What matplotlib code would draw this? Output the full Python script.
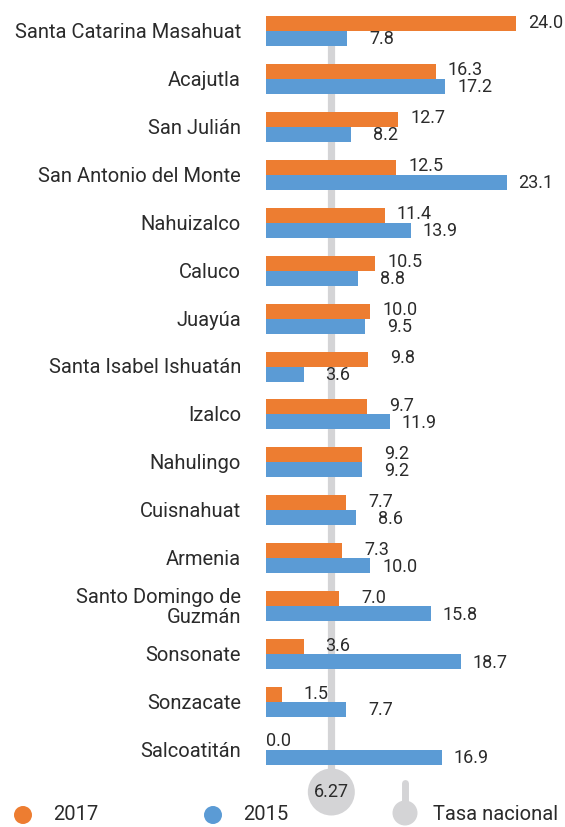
import matplotlib
matplotlib.use("Agg")
import matplotlib.pyplot as plt

plt.rcParams['font.family'] = ['Roboto', 'DejaVu Sans']

categories = ["Santa Catarina Masahuat", "Acajutla", "San Julián", "San Antonio del Monte",
              "Nahuizalco", "Caluco", "Juayúa", "Santa Isabel Ishuatán", "Izalco", "Nahulingo",
              "Cuisnahuat", "Armenia", "Santo Domingo de\nGuzmán", "Sonsonate", "Sonzacate",
              "Salcoatitán"]
values_2017 = [24.0, 16.3, 12.7, 12.5, 11.4, 10.5, 10.0, 9.8, 9.7, 9.2, 7.7, 7.3, 7.0, 3.6, 1.5, 0.0]
values_2015 = [7.8, 17.2, 8.2, 23.1, 13.9, 8.8, 9.5, 3.6, 11.9, 9.2, 8.6, 10.0, 15.8, 18.7, 7.7, 16.9]
tasa_nacional = 6.27
series_names = ["2017", "2015"]
legend_national = "Tasa nacional"

C17 = "#ED7D31"
C15 = "#5B9BD5"
GRAY = "#D4D4D6"
TXT = "#2b2b2b"

W, H = 565, 827
fig = plt.figure(figsize=(W / 100, H / 100), dpi=100)

# pixel geometry
x0_px = 266
px_per_unit = 10.42
first_px = 31
pitch = 47.93

ax = fig.add_axes([x0_px / W, 0, 1 - x0_px / W, 1])
ax.set_xlim(0, (W - x0_px) / px_per_unit)
ax.set_ylim((H - first_px) / pitch, -first_px / pitch)
ax.axis("off")

n = len(categories)
ys = list(range(n))
bh = 15 / pitch

# national line
circle_y = (792 - first_px) / pitch
top_y = (16 - first_px) / pitch
ax.plot([tasa_nacional, tasa_nacional], [top_y, circle_y], color=GRAY, lw=5.2,
        solid_capstyle="butt", zorder=1)

ax.barh([y - bh / 2 for y in ys], values_2017, height=bh, color=C17, zorder=2)
ax.barh([y + bh / 2 for y in ys], values_2015, height=bh, color=C15, zorder=2)

off = 47 / px_per_unit
fs = 13
fs_cat = 14.5
for y, v in zip(ys, values_2017):
    if v == 0:
        ax.text(0, y - bh / 2 - 0.02, f"{v:.1f}", ha="left", va="center", fontsize=fs, color=TXT)
    else:
        ax.text(v + off, y - bh / 2 - 0.02, f"{v:.1f}", ha="right", va="center", fontsize=fs, color=TXT)
for y, v in zip(ys, values_2015):
    ax.text(v + off, y + bh / 2 + 0.02, f"{v:.1f}", ha="right", va="center", fontsize=fs, color=TXT)

for y, c in zip(ys, categories):
    ax.text(-25 / px_per_unit, y + 0.03, c, ha="right", va="center", fontsize=fs_cat, color=TXT,
            multialignment="right", linespacing=1.05)

ax.scatter([tasa_nacional], [circle_y], s=(47 * 0.72) ** 2, color=GRAY, zorder=3, clip_on=False,
           edgecolors="none")
ax.text(tasa_nacional, circle_y, f"{tasa_nacional:.2f}", ha="center", va="center",
        fontsize=13, color=TXT, zorder=4)

# legend overlay in pixel coords
lx = fig.add_axes([0, 0, 1, 1], zorder=5)
lx.set_xlim(0, W)
lx.set_ylim(H, 0)
lx.axis("off")
lx.patch.set_alpha(0)
ly = 815
lx.scatter([23], [ly], s=(18 * 0.72) ** 2, color=C17, edgecolors="none")
lx.text(53, ly, series_names[0], ha="left", va="center", fontsize=fs_cat, color=TXT)
lx.scatter([213], [ly], s=(18 * 0.72) ** 2, color=C15, edgecolors="none")
lx.text(243, ly, series_names[1], ha="left", va="center", fontsize=fs_cat, color=TXT)
lx.plot([405, 405], [783, 810], color=GRAY, lw=5, solid_capstyle="round")
lx.scatter([405], [813], s=(25 * 0.72) ** 2, color=GRAY, edgecolors="none")
lx.text(433, ly, legend_national, ha="left", va="center", fontsize=fs_cat, color=TXT)

fig.savefig("out.png", dpi=100)
